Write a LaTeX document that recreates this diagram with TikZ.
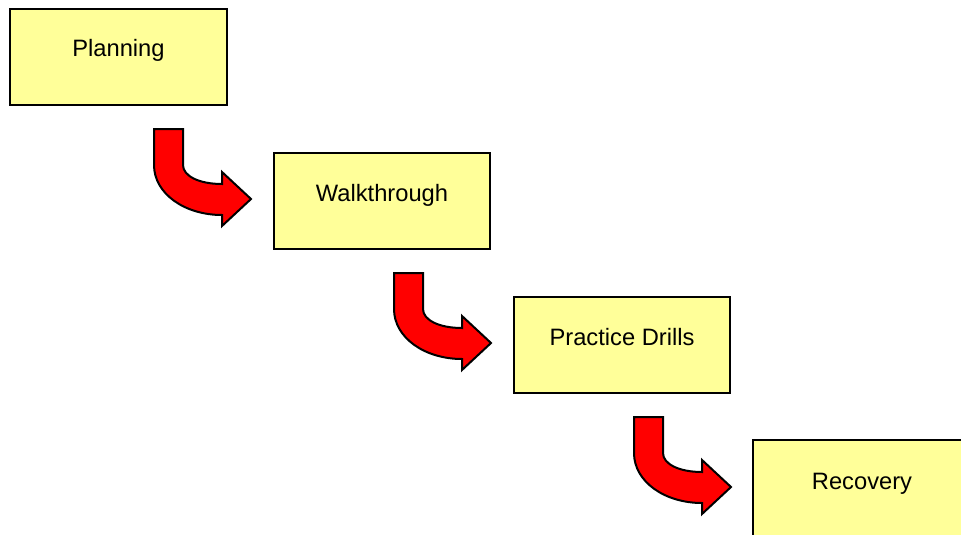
\documentclass[tikz,border=0pt]{standalone}
\usepackage{fontspec}
\setmainfont{Liberation Sans}
\definecolor{boxfill}{HTML}{FFFF99}
\definecolor{arrowred}{HTML}{FF0000}
\tikzset{
  stagebox/.style={draw=black, line width=1.6pt, fill=boxfill, rectangle,
    minimum width=216pt, minimum height=96pt, inner sep=0pt},
  stagelabel/.style={font=\fontsize{23.7}{28}\selectfont, anchor=base, inner sep=0pt},
  bentarrow/.style={draw=black, line width=2pt, fill=arrowred, line join=miter},
}
\newcommand{\bentarrowpath}[2]{%
  \path[bentarrow, shift={(#1,#2)}]
    (0,0) -- (29,0) -- (29,36)
    .. controls (29,47) and (45,55) .. (68,55)
    -- (68,43) -- (97,70) -- (68,97) -- (68,86)
    .. controls (30.5,86) and (0,64.5) .. (0,36) -- cycle;}
\begin{document}
\begin{tikzpicture}[x=1pt,y=-1pt]
\useasboundingbox (0,0) rectangle (961,535);
\clip (0,0) rectangle (961,535);
\node[stagebox, minimum width=217pt] (plan) at (118.5,57) {};
\node[stagelabel] (planT) at (plan.center) {Planning};
\node[stagebox] (walk) at (382,201) {};
\node[stagelabel] (walkT) at (walk.center) {Walkthrough};
\node[stagebox] (drill) at (622,345) {};
\node[stagelabel] (drillT) at (drill.center) {Practice Drills};
\node[stagebox, draw=none, minimum width=240pt] (rec) at (874,489) {};
\draw[line width=1.6pt] (rec.south west) -- (rec.north west) -- (rec.north east);
\node[stagelabel] (recT) at (862,489) {Recovery};
\bentarrowpath{154}{129}
\bentarrowpath{394}{273}
\bentarrowpath{634}{417}
\end{tikzpicture}
\end{document}
